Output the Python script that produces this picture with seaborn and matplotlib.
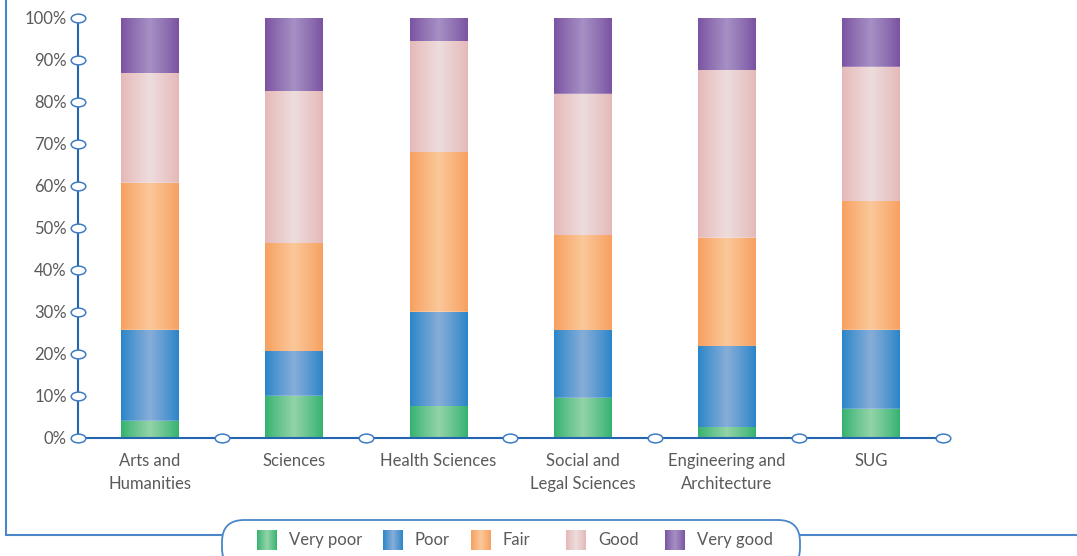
import numpy as np
import pandas as pd
import matplotlib
matplotlib.use("Agg")
import matplotlib.pyplot as plt
import seaborn as sns
from matplotlib.path import Path
from matplotlib.transforms import Affine2D
from matplotlib.patches import FancyBboxPatch
from matplotlib.colors import to_rgb

# ---- data (percent of respondents per rating) ----
categories = ["Arts and\nHumanities", "Sciences", "Health Sciences",
              "Social and\nLegal Sciences", "Engineering and\nArchitecture", "SUG"]
very_poor = [4.0, 10.0, 7.4, 9.5, 2.4, 6.9]
poor = [21.7, 10.5, 22.6, 16.0, 19.3, 18.8]
fair = [35.0, 25.7, 37.9, 22.6, 25.9, 30.5]
good = [26.0, 36.2, 26.4, 33.8, 39.8, 32.1]
very_good = [13.3, 17.6, 5.7, 18.1, 12.6, 11.7]
levels = ["Very poor", "Poor", "Fair", "Good", "Very good"]
y_ticks = [0, 10, 20, 30, 40, 50, 60, 70, 80, 90, 100]
y_tick_labels = [f"{v}%" for v in y_ticks]

series = {"Very poor": very_poor, "Poor": poor, "Fair": fair,
          "Good": good, "Very good": very_good}

# edge colour / centre highlight for the cylindrical shading
shades = {
    "Very poor": ("#34b370", "#93d3a8"),
    "Poor": ("#2a85c8", "#87add9"),
    "Fair": ("#f7a05e", "#fbc79a"),
    "Good": ("#e5b8b8", "#eedcdc"),
    "Very good": ("#7a53a3", "#a690c3"),
}

AXIS_BLUE = "#2365b0"
FRAME_BLUE = "#4a86c8"
TEXT_GREY = "#5a5a5a"
FS = 12

sns.set_style("white")
plt.rcParams["font.family"] = ["Lato", "DejaVu Sans"]


def gradient_strip(level, n=64):
    edge, centre = (np.array(to_rgb(c)) for c in shades[level])
    t = np.linspace(0, 1, n)
    f = 1 - np.abs(2 * t - 1)
    f = f ** 0.9
    rgb = edge[None, :] + (centre - edge)[None, :] * f[:, None]
    return rgb[None, :, :]


fig = plt.figure(figsize=(10.77, 5.56), dpi=100)
W, H = 1077, 556

# background layer for the frame and legend
bg = fig.add_axes([0, 0, 1, 1], zorder=0)
bg.set_xlim(0, W)
bg.set_ylim(H, 0)
bg.axis("off")

ax = fig.add_axes([78 / W, 118 / H, (943 - 78) / W, 420 / H], zorder=2)
ax.patch.set_alpha(0)

# cumulative stacks, drawn tallest first so lower segments sit on top
df = pd.DataFrame(series)
df["category"] = categories
cum = df[levels].cumsum(axis=1)
cum["category"] = categories

for g, level in enumerate(reversed(levels)):
    n_before = len(ax.patches)
    sns.barplot(data=cum, x="category", y=level, color=shades[level][0],
                width=0.4, saturation=1, errorbar=None, ax=ax)
    strip = gradient_strip(level)
    for p in ax.patches[n_before:]:
        x0, w, h = p.get_x(), p.get_width(), p.get_height()
        p.set_zorder(1 + 0.1 * g)
        ax.imshow(strip, extent=(x0, x0 + w, 0, h), aspect="auto",
                  interpolation="bilinear", zorder=1.05 + 0.1 * g)

ax.set_xlim(-0.5, len(categories) - 0.5)
ax.set_ylim(0, 100)
ax.set_xlabel("")
ax.set_ylabel("")

for s in ["top", "right"]:
    ax.spines[s].set_visible(False)
for s in ["left", "bottom"]:
    ax.spines[s].set_color(AXIS_BLUE)
    ax.spines[s].set_linewidth(1.5)
    ax.spines[s].set_zorder(3)

ax.set_yticks(y_ticks, labels=y_tick_labels)
ax.set_xticks(range(len(categories)), labels=categories)
ax.tick_params(axis="y", length=0, pad=8, labelsize=FS, labelcolor=TEXT_GREY)
ax.tick_params(axis="x", length=0, pad=11, labelsize=FS, labelcolor=TEXT_GREY)
for t in ax.get_xticklabels():
    t.set_linespacing(1.5)

# open oval markers on the axes
oval = Path.unit_circle().transformed(Affine2D().scale(1.0, 0.6))
mk = dict(ls="none", marker=oval, ms=10.5, mfc="white", mec="#3f7cc2",
          mew=1.1, clip_on=False, zorder=6)
ax.plot([-0.5] * len(y_ticks), y_ticks, **mk)
ax.plot(np.arange(len(categories)) + 0.5, [0] * len(categories), **mk)

# outer frame line with the legend capsule
bg.plot([6, 6, 222], [0, 535, 535], color=FRAME_BLUE, lw=1.5,
        solid_joinstyle="miter")
bg.plot([800, W], [535, 535], color=FRAME_BLUE, lw=1.5)
capsule = FancyBboxPatch((222, 520), 578, 50,
                         boxstyle="round,pad=0,rounding_size=22",
                         fc="white", ec=FRAME_BLUE, lw=1.3, zorder=2)
bg.add_patch(capsule)

legend_sq_x = [257, 383, 471, 566, 665]
legend_txt_x = [289, 415, 503, 598, 697]
for level, sx, tx in zip(levels, legend_sq_x, legend_txt_x):
    bg.imshow(gradient_strip(level), extent=(sx, sx + 20, 550, 530),
              aspect="auto", interpolation="bilinear", zorder=3)
    bg.text(tx, 540, level, ha="left", va="center", fontsize=FS,
            color=TEXT_GREY, zorder=4)
bg.set_xlim(0, W)
bg.set_ylim(H, 0)

fig.savefig("out.png", dpi=100)
